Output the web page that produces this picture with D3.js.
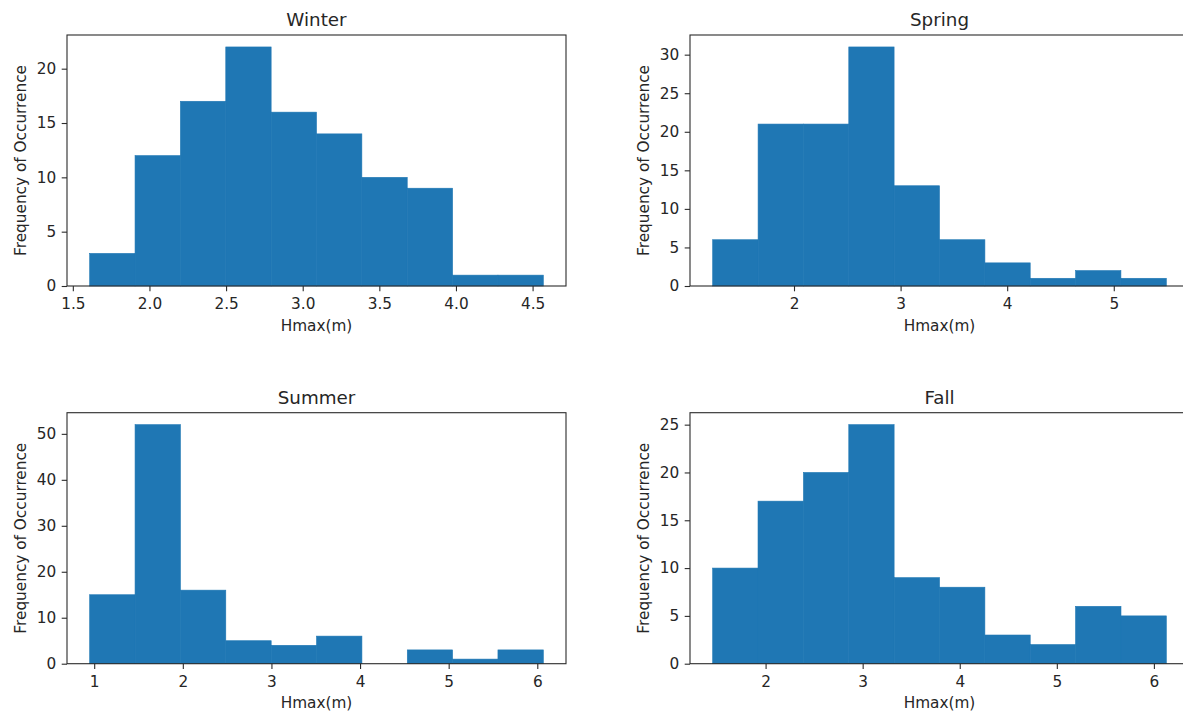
<!DOCTYPE html>
<html lang="en">
<head>
<meta charset="UTF-8">
<title>Hmax histograms by season</title>
<style>
    body {
        margin: 0;
        background: #fff;
        overflow: hidden;
    }
    svg text {
        font-family: "DejaVu Sans", sans-serif;
        fill: #262626;
    }
    .bar {
        fill: #1f77b4;
        stroke: #1f77b4;
        stroke-width: 0.6px;
    }
    .frame {
        fill: none;
        stroke: #2b2b2b;
        stroke-width: 1.1px;
    }
    .tick line {
        stroke: #2b2b2b;
        stroke-width: 1.1px;
    }
    .tick text {
        font-size: 15.3px;
    }
    .title {
        font-size: 18.3px;
    }
    .label {
        font-size: 15.3px;
    }
</style>
</head>
<body>
<div id="chart"></div>
<script src="https://d3js.org/d3.v7.min.js"></script>
<script>
// Data: 10 bins per season, bin edges + counts
const winterEdges  = [1.610, 1.906, 2.202, 2.498, 2.794, 3.090, 3.386, 3.682, 3.978, 4.274, 4.570];
const winterCounts = [3, 12, 17, 22, 16, 14, 10, 9, 1, 1];
const winterXTicks = [1.5, 2.0, 2.5, 3.0, 3.5, 4.0, 4.5];
const winterYTicks = [0, 5, 10, 15, 20];

const springEdges  = [1.237, 1.663, 2.088, 2.514, 2.939, 3.365, 3.791, 4.216, 4.642, 5.067, 5.493];
const springCounts = [6, 21, 21, 31, 13, 6, 3, 1, 2, 1];
const springXTicks = [2, 3, 4, 5];
const springYTicks = [0, 5, 10, 15, 20, 25, 30];

const summerEdges  = [0.949, 1.461, 1.973, 2.485, 2.997, 3.509, 4.021, 4.533, 5.044, 5.556, 6.068];
const summerCounts = [15, 52, 16, 5, 4, 6, 0, 3, 1, 3];
const summerXTicks = [1, 2, 3, 4, 5, 6];
const summerYTicks = [0, 10, 20, 30, 40, 50];

const fallEdges  = [1.455, 1.922, 2.390, 2.857, 3.324, 3.792, 4.259, 4.726, 5.193, 5.661, 6.128];
const fallCounts = [10, 17, 20, 25, 9, 8, 3, 2, 6, 5];
const fallXTicks = [2, 3, 4, 5, 6];
const fallYTicks = [0, 5, 10, 15, 20, 25];

const xLabel = "Hmax(m)";
const yLabel = "Frequency of Occurrence";

const panels = [
    { title: "Winter", edges: winterEdges, counts: winterCounts, xTicks: winterXTicks, yTicks: winterYTicks, fmt: d3.format(".1f") },
    { title: "Spring", edges: springEdges, counts: springCounts, xTicks: springXTicks, yTicks: springYTicks, fmt: d3.format("d") },
    { title: "Summer", edges: summerEdges, counts: summerCounts, xTicks: summerXTicks, yTicks: summerYTicks, fmt: d3.format("d") },
    { title: "Fall",   edges: fallEdges,   counts: fallCounts,   xTicks: fallXTicks,   yTicks: fallYTicks,   fmt: d3.format("d") }
];

// 2x2 grid of axes (right column runs past the picture edge, as in the original)
const width = 1183, height = 719;
const cols = [67, 690];
const rows = [35, 412.7];
const plotW = 499, plotH = 251;
const tickLen = 5.3;

const svg = d3.select("#chart")
    .append("svg")
    .attr("width", width)
    .attr("height", height);

svg.append("rect")
    .attr("width", width)
    .attr("height", height)
    .attr("fill", "#fff");

panels.forEach((p, i) => {
    const g = svg.append("g")
        .attr("transform", `translate(${cols[i % 2]},${rows[Math.floor(i / 2)]})`);

    const lo = p.edges[0], hi = p.edges[p.edges.length - 1];
    const pad = (hi - lo) * 0.05;

    const x = d3.scaleLinear()
        .domain([lo - pad, hi + pad])
        .range([0, plotW]);

    const y = d3.scaleLinear()
        .domain([0, d3.max(p.counts) * 1.05])
        .range([plotH, 0]);

    // bars (skip empty bins so no sliver is drawn)
    g.selectAll(".bar")
        .data(p.counts.map((c, j) => ({ c, j })).filter(d => d.c > 0))
        .enter()
        .append("rect")
        .attr("class", "bar")
        .attr("x", d => x(p.edges[d.j]))
        .attr("width", d => x(p.edges[d.j + 1]) - x(p.edges[d.j]))
        .attr("y", d => y(d.c))
        .attr("height", d => y(0) - y(d.c));

    // x axis
    const xAxis = g.append("g")
        .attr("transform", `translate(0,${plotH})`)
        .call(d3.axisBottom(x)
            .tickValues(p.xTicks)
            .tickFormat(p.fmt)
            .tickSize(tickLen)
            .tickPadding(6.8));
    xAxis.select(".domain").remove();

    // y axis
    const yAxis = g.append("g")
        .call(d3.axisLeft(y)
            .tickValues(p.yTicks)
            .tickSize(tickLen)
            .tickPadding(5.4));
    yAxis.select(".domain").remove();

    // frame on top
    g.append("rect")
        .attr("class", "frame")
        .attr("width", plotW)
        .attr("height", plotH);

    // title
    g.append("text")
        .attr("class", "title")
        .attr("x", plotW / 2)
        .attr("y", -9.2)
        .attr("text-anchor", "middle")
        .text(p.title);

    // axis labels
    g.append("text")
        .attr("class", "label")
        .attr("x", plotW / 2)
        .attr("y", plotH + 44.5)
        .attr("text-anchor", "middle")
        .text(xLabel);

    g.append("text")
        .attr("class", "label")
        .attr("transform", `translate(-41.5,${plotH / 2}) rotate(-90)`)
        .attr("text-anchor", "middle")
        .text(yLabel);
});
</script>
</body>
</html>
